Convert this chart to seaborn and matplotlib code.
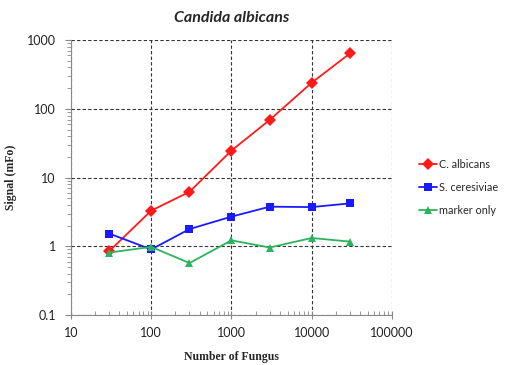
import pandas as pd
import matplotlib
matplotlib.use("Agg")
import matplotlib.pyplot as plt
import seaborn as sns

# Dados
num_fungos = [30, 100, 300, 1000, 3000, 10000, 30000]
c_albicans = [0.85, 3.3, 6.2, 24.7, 69, 240, 640]
s_ceresiviae = [1.53, 0.90, 1.78, 2.70, 3.77, 3.72, 4.21]
marker_only = [0.81, 0.98, 0.57, 1.22, 0.96, 1.32, 1.17]

series = ["C. albicans", "S. ceresiviae", "marker only"]
cores = {"C. albicans": "#ff1a1a", "S. ceresiviae": "#1a1aff", "marker only": "#2db35d"}
marcadores = {"C. albicans": "D", "S. ceresiviae": "s", "marker only": "^"}

df = pd.DataFrame({
    "Number of Fungus": num_fungos * 3,
    "Signal": c_albicans + s_ceresiviae + marker_only,
    "serie": [s for s in series for _ in num_fungos],
})

sns.set_style("white")

fig = plt.figure(figsize=(5.05, 3.65), dpi=100)
ax = fig.add_axes([0.1406, 0.137, 0.6354, 0.753])

sns.lineplot(data=df, x="Number of Fungus", y="Signal", hue="serie", style="serie",
             palette=cores, markers=marcadores, dashes=False, markersize=6,
             markeredgewidth=0, linewidth=1.3, ax=ax)

ax.set_xscale("log")
ax.set_yscale("log")
ax.set_xlim(10, 100000)
ax.set_ylim(0.1, 1000)

ax.set_xticks([10, 100, 1000, 10000, 100000])
ax.set_xticklabels(["10", "100", "1000", "10000", "100000"])
ax.set_yticks([0.1, 1, 10, 100, 1000])
ax.set_yticklabels(["0.1", "1", "10", "100", "1000"])

ax.grid(True, which="major", linestyle=(0, (3, 2)), color="#333333", linewidth=0.8)
ax.tick_params(axis="both", which="major", labelsize=9, colors="#888888", labelcolor="#222222")
ax.tick_params(axis="x", which="major", direction="inout", length=6, pad=6)
ax.tick_params(axis="x", which="minor", direction="in", length=3, colors="#888888")
ax.tick_params(axis="y", which="major", direction="out", length=4, pad=7)
ax.tick_params(axis="y", which="minor", direction="out", length=3, colors="#888888")
ax.xaxis.set_ticks_position("bottom")
ax.yaxis.set_ticks_position("left")
for lbl in ax.get_xticklabels() + ax.get_yticklabels():
    lbl.set_family("Lato")

ax.spines["top"].set_visible(False)
ax.spines["right"].set_visible(False)
ax.spines["left"].set_color("#888888")
ax.spines["bottom"].set_color("#888888")

ax.set_xlabel("Number of Fungus", family="Liberation Serif", fontweight="bold", fontsize=8.5, labelpad=8)
ax.set_ylabel("Signal (mFo)", family="Liberation Serif", fontweight="bold", fontsize=8.5)
ax.yaxis.set_label_coords(-0.168, 0.5)
ax.set_title("Candida albicans", family="Lato", fontstyle="italic", fontweight="bold",
             fontsize=11.5, pad=13)

ax.legend(title=None, frameon=False, loc="center left", bbox_to_anchor=(1.07, 0.465),
          handlelength=1.7, labelspacing=1.1, handletextpad=0.15, borderaxespad=0,
          prop={"family": "Lato", "size": 7.8})

fig.savefig("out.png", dpi=100)
